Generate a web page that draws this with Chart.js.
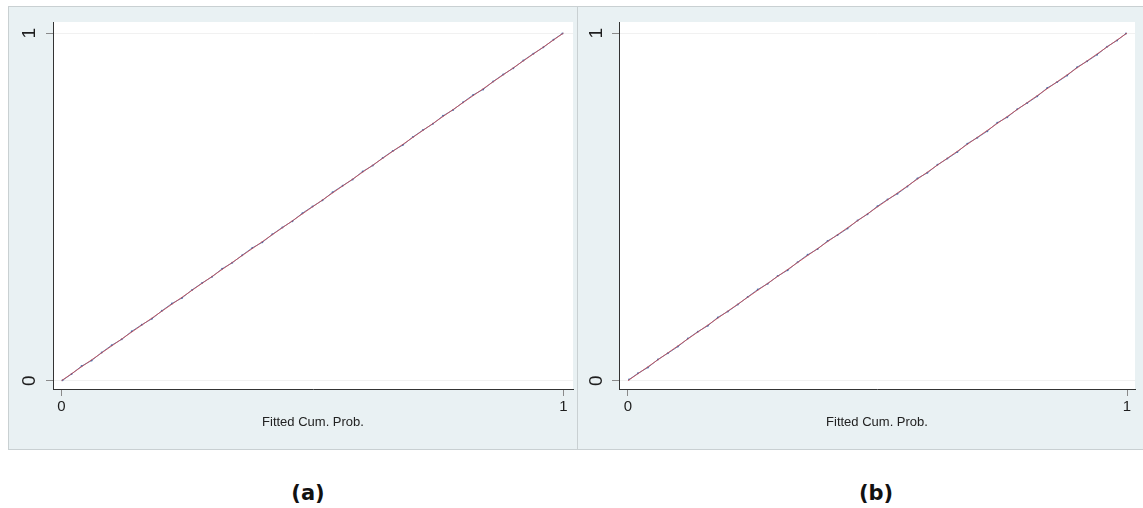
<!DOCTYPE html>
<html>
<head>
<meta charset="utf-8">
<script src="https://cdn.jsdelivr.net/npm/chart.js@4.4.1/dist/chart.umd.min.js"></script>
<style>
  body { margin: 0; background: #fff; width: 1143px; height: 508px; position: relative; overflow: hidden; font-family: "Liberation Sans", Arial, sans-serif; }
  .panel { position: absolute; top: 6px; height: 442px; background: #e9f1f3; border: 1px solid #c9d0d2; }
  .panel canvas { position: absolute; left: 0; top: 0; }
  .cap { position: absolute; top: 481px; font-family: "DejaVu Sans", sans-serif; font-weight: bold; font-size: 21px; color: #111; width: 80px; text-align: center; }
</style>
</head>
<body>
<div class="panel" style="left:8px; width:568px;"><canvas id="id-chartA" width="568" height="442"></canvas></div>
<div class="panel" style="left:577px; width:566px; border-right:none;"><canvas id="id-chartB" width="566" height="442"></canvas></div>
<div class="cap" style="left:268px;">(a)</div>
<div class="cap" style="left:836px;">(b)</div>
<script>
// fitted vs empirical cumulative probabilities, panel (a)
var fittedA = [0.002, 0.02, 0.04, 0.06, 0.08, 0.10, 0.12, 0.14, 0.16, 0.18, 0.20, 0.22, 0.24, 0.26, 0.28, 0.30, 0.32, 0.34, 0.36, 0.38, 0.40, 0.42, 0.44, 0.46, 0.48, 0.50, 0.52, 0.54, 0.56, 0.58, 0.60, 0.62, 0.64, 0.66, 0.68, 0.70, 0.72, 0.74, 0.76, 0.78, 0.80, 0.82, 0.84, 0.86, 0.88, 0.90, 0.92, 0.94, 0.96, 0.98, 0.998];
var empiricalA = [0.001, 0.019, 0.042, 0.058, 0.081, 0.102, 0.119, 0.142, 0.161, 0.178, 0.201, 0.222, 0.238, 0.261, 0.281, 0.299, 0.322, 0.339, 0.361, 0.382, 0.398, 0.421, 0.441, 0.459, 0.482, 0.501, 0.519, 0.542, 0.561, 0.579, 0.602, 0.619, 0.641, 0.661, 0.678, 0.701, 0.721, 0.739, 0.762, 0.779, 0.801, 0.822, 0.838, 0.861, 0.881, 0.899, 0.921, 0.941, 0.959, 0.981, 0.999];
// panel (b)
var fittedB = [0.002, 0.02, 0.04, 0.06, 0.08, 0.10, 0.12, 0.14, 0.16, 0.18, 0.20, 0.22, 0.24, 0.26, 0.28, 0.30, 0.32, 0.34, 0.36, 0.38, 0.40, 0.42, 0.44, 0.46, 0.48, 0.50, 0.52, 0.54, 0.56, 0.58, 0.60, 0.62, 0.64, 0.66, 0.68, 0.70, 0.72, 0.74, 0.76, 0.78, 0.80, 0.82, 0.84, 0.86, 0.88, 0.90, 0.92, 0.94, 0.96, 0.98, 0.998];
var empiricalB = [0.003, 0.021, 0.038, 0.061, 0.079, 0.098, 0.121, 0.141, 0.158, 0.182, 0.199, 0.219, 0.241, 0.262, 0.279, 0.301, 0.318, 0.341, 0.362, 0.379, 0.402, 0.419, 0.438, 0.461, 0.479, 0.502, 0.521, 0.538, 0.559, 0.582, 0.598, 0.621, 0.639, 0.658, 0.682, 0.699, 0.718, 0.742, 0.758, 0.781, 0.799, 0.818, 0.842, 0.859, 0.878, 0.902, 0.919, 0.938, 0.961, 0.979, 0.999];
var refLine = [0, 1];
var tickValues = [0, 1];
var xTitle = "Fitted Cum. Prob.";

function toPoints(xs, ys) {
  return xs.map(function(x, i) { return {x: x, y: ys[i]}; });
}

var panelBackground = {
  id: "panelBackground",
  beforeDraw: function(chart) {
    var ctx = chart.ctx, a = chart.chartArea;
    ctx.save();
    ctx.fillStyle = "#e9f1f3";
    ctx.fillRect(0, 0, chart.width, chart.height);
    ctx.fillStyle = "#ffffff";
    ctx.fillRect(a.left, a.top, a.right - a.left, a.bottom - a.top);
    ctx.restore();
  }
};

function makeChart(id, xs, ys, opt) {
  var setTicks = function(s) { s.ticks = tickValues.map(function(v) { return {value: v}; }); };
  return new Chart(id, {
    type: "scatter",
    data: {
      datasets: [{
        // reference line, drawn on top
        data: toPoints(refLine, refLine),
        showLine: true,
        borderColor: "rgba(200,80,88,0.9)",
        borderWidth: 1,
        pointRadius: 0
      }, {
        data: toPoints(xs, ys),
        showLine: true,
        borderColor: "rgba(40,90,160,0.75)",
        backgroundColor: "rgba(40,90,160,0.75)",
        borderWidth: 1,
        pointRadius: 1,
        pointBorderWidth: 0
      }]
    },
    options: {
      responsive: false,
      animation: false,
      devicePixelRatio: 1,
      layout: {padding: {left: 0, top: 15, right: opt.padRight, bottom: 0}},
      plugins: {legend: {display: false}, tooltip: {enabled: false}},
      scales: {
        x: {
          type: "linear",
          min: opt.xMin, max: opt.xMax,
          afterBuildTicks: setTicks,
          afterFit: function(s) { s.height = 60; s.paddingLeft = 0; s.paddingRight = 0; },
          border: {color: "#333333", width: 1},
          grid: {drawOnChartArea: false, tickLength: 7, tickColor: "#8a8a8a"},
          ticks: {padding: 2, color: "#1e1e1e", font: {family: "Liberation Sans", size: 15}, maxRotation: 0},
          title: {display: true, text: xTitle, color: "#222222", font: {family: "Liberation Sans", size: 13}, padding: {top: 0, bottom: 19}}
        },
        y: {
          type: "linear",
          min: -0.024, max: 1.032,
          afterBuildTicks: setTicks,
          afterFit: function(s) { s.width = opt.yWidth; s.paddingTop = 0; s.paddingBottom = 0; },
          border: {color: "#333333", width: 1},
          grid: {color: "#f1f1f1", tickLength: 7, tickColor: "#8a8a8a"},
          ticks: {padding: opt.yPad, color: "#1e1e1e", font: {family: "Liberation Sans", size: 19}, minRotation: 90, maxRotation: 90, crossAlign: "center"}
        }
      }
    },
    plugins: [panelBackground]
  });
}

makeChart("id-chartA", fittedA, empiricalA, {xMin: -0.017, xMax: 1.019, yWidth: 44, yPad: 11, padRight: 3});
makeChart("id-chartB", fittedB, empiricalB, {xMin: -0.018, xMax: 1.016, yWidth: 41, yPad: 10, padRight: 9});
</script>
</body>
</html>
